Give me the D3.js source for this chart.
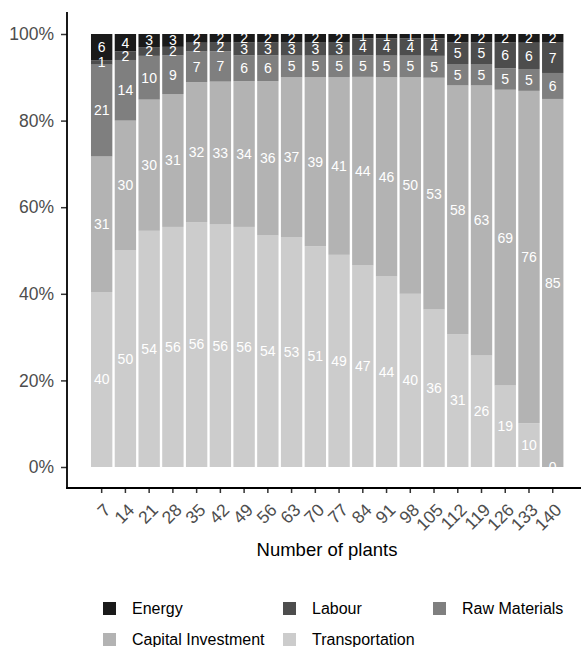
<!DOCTYPE html>
<html>
<head>
<meta charset="utf-8">
<script src="https://cdn.jsdelivr.net/npm/d3@7"></script>
<style>
  html, body { margin: 0; padding: 0; background: #fff; }
  svg { display: block; font-family: "Liberation Sans", Arial, sans-serif; }
</style>
</head>
<body>
<svg id="chart" width="581" height="647"></svg>
<script>
// Cost shares (%) by number of plants
const plants = ["7","14","21","28","35","42","49","56","63","70","77","84","91","98","105","112","119","126","133","140"];
const energy         = [6,4,3,3,2,2,2,2,2,2,2,1,1,1,1,2,2,2,2,2];
const labour         = [1,2,2,2,2,2,3,3,3,3,3,4,4,4,4,5,5,6,6,7];
const rawMaterials   = [21,14,10,9,7,7,6,6,5,5,5,5,5,5,5,5,5,5,5,6];
const capital        = [31,30,30,31,32,33,34,36,37,39,41,44,46,50,53,58,63,69,76,85];
const transportation = [40,50,54,56,56,56,56,54,53,51,49,47,44,40,36,31,26,19,10,0];

const seriesNames = ["Energy","Labour","Raw Materials","Capital Investment","Transportation"];
const seriesValues = [energy, labour, rawMaterials, capital, transportation];
const seriesColors = ["#1a1a1a","#4d4d4d","#7f7f7f","#b3b3b3","#cccccc"];
const yTicks = [0, 0.2, 0.4, 0.6, 0.8, 1];

const rows = plants.map((p, i) => {
  const r = { plants: p };
  seriesNames.forEach((s, k) => r[s] = seriesValues[k][i]);
  return r;
});

// Transportation at the bottom, Energy on top; each bar filled to 100%
const stackKeys = seriesNames.slice().reverse();
const stacked = d3.stack().keys(stackKeys).offset(d3.stackOffsetExpand)(rows);
const color = d3.scaleOrdinal().domain(seriesNames).range(seriesColors);

const svg = d3.select("#chart");
const axisX0 = 67, axisX1 = 581, axisY0 = 12, axisY1 = 488;
const tickFont = 17.5;

const x = d3.scaleBand().domain(plants).range([89.8, 564.6])
  .paddingInner(0.1).paddingOuter(0.05);
const y = d3.scaleLinear().domain([0, 1]).range([467, 34]);

// bars
const layers = svg.append("g").selectAll("g").data(stacked).join("g")
  .attr("fill", d => color(d.key));
layers.selectAll("rect").data(d => d).join("rect")
  .attr("x", d => x(d.data.plants))
  .attr("width", x.bandwidth())
  .attr("y", d => y(d[1]))
  .attr("height", d => y(d[0]) - y(d[1]));

// value labels at segment centres
const labelG = svg.append("g");
stacked.forEach(layer => {
  layer.forEach(d => {
    labelG.append("text")
      .attr("x", x(d.data.plants) + x.bandwidth() / 2)
      .attr("y", y((d[0] + d[1]) / 2))
      .attr("dy", "0.35em")
      .attr("text-anchor", "middle")
      .attr("font-size", 14)
      .attr("fill", "#ffffff")
      .text(d.data[layer.key]);
  });
});

// white area below the panel hides label overflow
svg.append("rect").attr("x", axisX0).attr("y", 467).attr("width", 581 - axisX0).attr("height", 21).attr("fill", "#fff");

// y axis
const yAxis = d3.axisLeft(y).tickValues(yTicks).tickFormat(d3.format(".0%")).tickSize(6).tickPadding(7);
const gy = svg.append("g").attr("transform", `translate(${axisX0},0)`).call(yAxis);
gy.select(".domain").remove();
gy.selectAll(".tick line").attr("stroke", "#333").attr("stroke-width", 1.5);
gy.selectAll(".tick text").attr("font-size", tickFont).attr("fill", "#4d4d4d")
  .attr("font-family", "'Liberation Sans', Arial, sans-serif");

// x axis
const xAxis = d3.axisBottom(x).tickSize(5).tickPadding(3);
const gx = svg.append("g").attr("transform", `translate(0,${axisY1})`).call(xAxis);
gx.select(".domain").remove();
gx.selectAll(".tick line").attr("stroke", "#333").attr("stroke-width", 1.5);
gx.selectAll(".tick text")
  .attr("font-size", tickFont).attr("fill", "#4d4d4d")
  .attr("font-family", "'Liberation Sans', Arial, sans-serif")
  .attr("text-anchor", "end")
  .attr("dy", null).attr("y", 0)
  .attr("transform", "translate(10,23) rotate(-45)");

// axis lines
svg.append("line").attr("x1", axisX0).attr("x2", axisX0).attr("y1", axisY0).attr("y2", axisY1 + 0.9)
  .attr("stroke", "#000").attr("stroke-width", 1.8);
svg.append("line").attr("x1", axisX0 - 0.9).attr("x2", axisX1).attr("y1", axisY1).attr("y2", axisY1)
  .attr("stroke", "#000").attr("stroke-width", 1.8);

// axis title
svg.append("text").attr("x", 327).attr("y", 556).attr("text-anchor", "middle")
  .attr("font-size", 18.5).attr("fill", "#000").text("Number of plants");

// legend
const legendPos = [[103, 602], [283, 602], [433, 602], [103, 633], [283, 633]];
const lg = svg.append("g");
seriesNames.forEach((s, i) => {
  const [lx, ly] = legendPos[i];
  lg.append("rect").attr("x", lx).attr("y", ly).attr("width", 13).attr("height", 13).attr("fill", color(s));
  lg.append("text").attr("x", lx + 29).attr("y", ly + 12).attr("font-size", 16).attr("fill", "#000").text(s);
});
</script>
</body>
</html>
